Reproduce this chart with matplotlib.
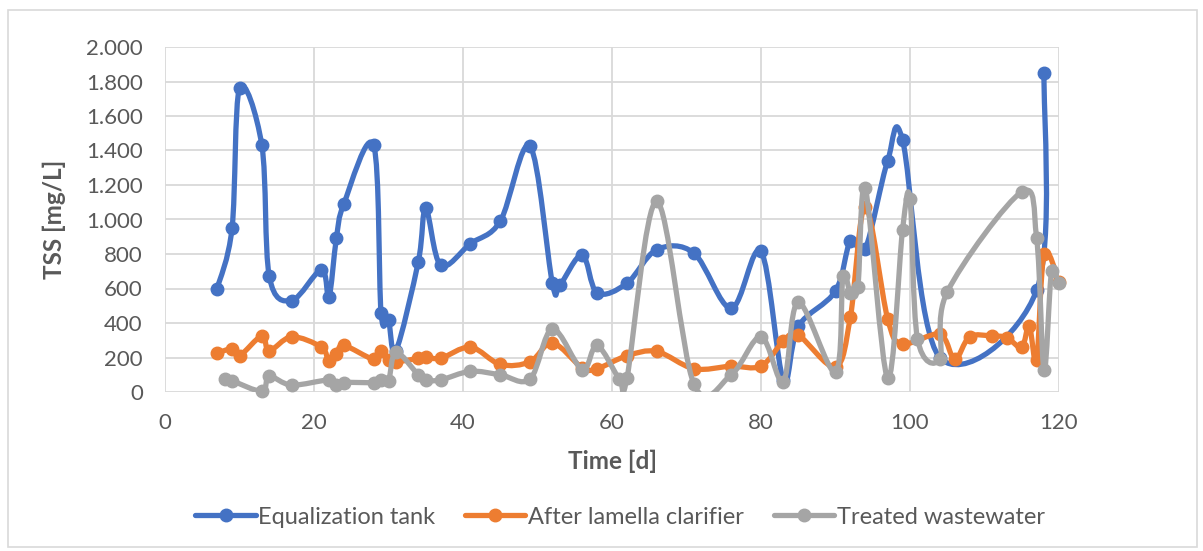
import matplotlib
matplotlib.use("Agg")
import matplotlib.pyplot as plt
from matplotlib.path import Path
from matplotlib.patches import PathPatch, Rectangle
from matplotlib.lines import Line2D
from matplotlib.ticker import FuncFormatter

# ---- data ----
eq_days = [7, 9, 10, 13, 14, 17, 21, 22, 23, 24, 28, 29, 30, 31, 34, 35, 37, 41, 45, 49,
           52, 53, 56, 58, 62, 66, 71, 76, 80, 83, 85, 90, 92, 94, 97, 99, 104, 117, 118]
eq_tss = [600, 950, 1760, 1430, 670, 530, 710, 550, 890, 1090, 1430, 460, 415, 240, 755, 1065,
          735, 860, 990, 1425, 630, 620, 795, 575, 630, 825, 805, 485, 815, 70, 380, 585, 875,
          830, 1340, 1460, 200, 590, 1850]

lam_days = [7, 9, 10, 13, 14, 17, 21, 22, 23, 24, 28, 29, 30, 31, 34, 35, 37, 41, 45, 49,
            52, 56, 58, 62, 66, 71, 76, 80, 83, 85, 90, 92, 94, 97, 99, 104, 106, 108, 111,
            113, 115, 116, 117, 118, 120]
lam_tss = [225, 250, 210, 325, 240, 320, 260, 180, 220, 270, 190, 240, 185, 175, 195, 205,
           195, 260, 160, 175, 285, 140, 135, 210, 235, 135, 150, 150, 295, 330, 145, 435,
           1075, 425, 280, 335, 190, 320, 325, 315, 260, 385, 185, 800, 640]

tw_days = [8, 9, 13, 14, 17, 22, 23, 24, 28, 29, 30, 31, 34, 35, 37, 41, 45, 49, 52, 56, 58,
           61, 62, 66, 71, 76, 80, 83, 85, 90, 91, 92, 93, 94, 97, 99, 100, 101, 104, 105,
           115, 117, 118, 119, 120]
tw_tss = [75, 65, 5, 90, 40, 70, 40, 55, 55, 70, 65, 230, 100, 70, 70, 120, 100, 75, 365, 130,
          270, 75, 80, 1105, 45, 100, 320, 60, 520, 115, 670, 575, 610, 1180, 80, 940, 1120,
          310, 190, 580, 1160, 890, 125, 700, 630]

series_names = ["Equalization tank", "After lamella clarifier", "Treated wastewater"]
series_colors = ["#4472C4", "#ED7D31", "#A5A5A5"]
x_ticks = [0, 20, 40, 60, 80, 100, 120]
y_ticks = [0, 200, 400, 600, 800, 1000, 1200, 1400, 1600, 1800, 2000]

FONT = ["Lato", "DejaVu Sans"]
plt.rcParams['font.family'] = FONT
TXT = "#595959"
GRID = "#D9D9D9"


def smooth_path(xs, ys):
    """Excel-like smoothed line: Catmull-Rom segments as cubic Bezier curves."""
    pts = list(zip(xs, ys))
    n = len(pts)
    verts = [pts[0]]
    codes = [Path.MOVETO]
    for i in range(n - 1):
        p0 = pts[i - 1] if i > 0 else pts[i]
        p1 = pts[i]
        p2 = pts[i + 1]
        p3 = pts[i + 2] if i + 2 < n else pts[i + 1]
        c1 = (p1[0] + (p2[0] - p0[0]) / 6.0, p1[1] + (p2[1] - p0[1]) / 6.0)
        c2 = (p2[0] - (p3[0] - p1[0]) / 6.0, p2[1] - (p3[1] - p1[1]) / 6.0)
        verts += [c1, c2, p2]
        codes += [Path.CURVE4] * 3
    return Path(verts, codes)


W, H = 1203, 551
fig = plt.figure(figsize=(W / 100, H / 100), dpi=100)
fig.patch.set_facecolor("white")
fig.patches.append(Rectangle((8 / W, 1 - 547 / H), 1189 / W, 537 / H, transform=fig.transFigure,
                             fill=False, edgecolor=GRID, linewidth=1.2))

ax = fig.add_axes([165 / W, 1 - 392 / H, (1059 - 165) / W, (392 - 47) / H])
ax.set_xlim(0, 120)
ax.set_ylim(0, 2000)
ax.set_xticks(x_ticks)
ax.set_yticks(y_ticks)


def yfmt(v, pos):
    return f"{v:,.0f}".replace(",", ".")


ax.yaxis.set_major_formatter(FuncFormatter(yfmt))
ax.grid(True, color=GRID, linewidth=1.3)
ax.set_axisbelow(True)
for s in ax.spines.values():
    s.set_visible(False)
ax.tick_params(length=0, labelsize=16, labelcolor=TXT)
ax.tick_params(axis='x', pad=15)
ax.tick_params(axis='y', pad=16)

data = [(eq_days, eq_tss), (lam_days, lam_tss), (tw_days, tw_tss)]
handles = []
for k, ((xs, ys), name, col) in enumerate(zip(data, series_names, series_colors)):
    patch = PathPatch(smooth_path(xs, ys), fill=False, edgecolor=col, linewidth=3.8,
                      capstyle='round', joinstyle='round', zorder=2 + k)
    ax.add_patch(patch)
    ax.plot(xs, ys, linestyle='none', marker='o', markersize=9, color=col,
            markeredgecolor=col, zorder=2.5 + k, clip_on=False)
    handles.append(Line2D([], [], color=col, linewidth=3.8, marker='o', markersize=9,
                          solid_capstyle='round'))

ax.set_xlabel("Time [d]", fontsize=17.5, fontweight='bold', color=TXT, labelpad=12)
ax.set_ylabel("TSS [mg/L]", fontsize=17.5, fontweight='bold', color=TXT, labelpad=14)

fig.legend(handles, series_names, loc='center', bbox_to_anchor=(620 / W, 1 - 517 / H),
           ncol=3, frameon=False, fontsize=17, labelcolor=TXT, handlelength=2.55,
           handletextpad=0.12, columnspacing=1.25)

fig.savefig("out.png", dpi=100, facecolor="white")
